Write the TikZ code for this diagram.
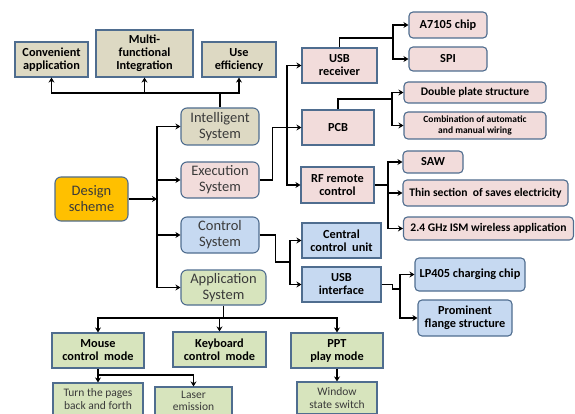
\documentclass[tikz,border=0pt]{standalone}
\usepackage{fontspec}
\setmainfont{Carlito}
\usetikzlibrary{arrows.meta}
\definecolor{bordc}{RGB}{79,109,143}
\definecolor{beigec}{HTML}{DDD9C3}
\definecolor{pinkc}{HTML}{F2DCDB}
\definecolor{bluec}{HTML}{C6D9F1}
\definecolor{greenc}{HTML}{D7E4BD}
\definecolor{orangec}{HTML}{FFC000}
\definecolor{sysc}{HTML}{3A3A3A}
\tikzset{
	box/.style={draw=bordc,line width=1.1pt,align=center,inner sep=1pt,
		font=\bfseries\fontsize{12.3}{13}\selectfont},
	rbox/.style={box,rounded corners=4pt},
	widebox/.style={rbox,font=\bfseries\fontsize{11.6}{13}\selectfont},
	sysbox/.style={rbox,rounded corners=6pt,text=sysc,
		font=\fontsize{14.5}{16}\selectfont},
	plainbox/.style={box,font=\fontsize{11.5}{12.5}\selectfont,text=sysc},
	link/.style={line width=1.4pt},
	arr/.style={link,-{Stealth[length=5pt,width=6pt]}}
}
\begin{document}
\begin{tikzpicture}[x=1pt,y=-1pt]
	\clip (0,0) rectangle (575,414);
	\node[box,fill=beigec,minimum width=73,minimum height=35] (conv) at (51.5,59.5) {Convenient\\application};
	\node[box,fill=beigec,minimum width=97,minimum height=47] (multi) at (144.5,53.5) {Multi-\\functional\\Integration};
	\node[box,fill=beigec,minimum width=74,minimum height=35] (useeff) at (239,59.5) {Use\\efficiency};
	\node[sysbox,fill=orangec,minimum width=73,minimum height=44] (design) at (91.5,199) {Design\\scheme};
	\node[sysbox,fill=beigec,minimum width=78,minimum height=37] (intel) at (220,126.5) {Intelligent\\System};
	\node[sysbox,fill=pinkc,minimum width=78,minimum height=36] (exec) at (220,180) {Execution\\System};
	\node[sysbox,fill=bluec,minimum width=78,minimum height=36] (ctrl) at (220,235) {Control\\System};
	\node[sysbox,fill=greenc,minimum width=85,minimum height=35] (appl) at (223.5,287.5) {Application\\System};
	\node[box,fill=pinkc,minimum width=75,minimum height=35] (usbr) at (339.5,65.5) {USB\\receiver};
	\node[rbox,fill=pinkc,minimum width=78,minimum height=26] (a7105) at (448,25) {A7105 chip};
	\node[rbox,fill=pinkc,minimum width=78,minimum height=24] (spi) at (448,59) {SPI};
	\node[box,fill=pinkc,minimum width=72,minimum height=35] (pcb) at (338,127.5) {PCB};
	\node[widebox,fill=pinkc,minimum width=142,minimum height=21] (dps) at (475,92.5) {Double plate structure};
	\node[rbox,fill=pinkc,minimum width=142,minimum height=27,font=\bfseries\fontsize{9.5}{10.5}\selectfont] (comb) at (475,125.5) {Combination of automatic\\and manual wiring};
	\node[box,fill=pinkc,minimum width=73,minimum height=36] (rf) at (337.5,185) {RF remote\\control};
	\node[rbox,fill=pinkc,minimum width=60,minimum height=22] (saw) at (433,162) {SAW};
	\node[widebox,fill=pinkc,minimum width=165,minimum height=26] (thin) at (485.5,193) {Thin section\ \ of saves electricity};
	\node[widebox,fill=pinkc,minimum width=170,minimum height=23] (ism) at (488.5,228.5) {2.4 GHz ISM wireless application};
	\node[box,fill=bluec,minimum width=79,minimum height=35] (ccu) at (341.5,240.5) {Central\\control\ \ unit};
	\node[box,fill=bluec,minimum width=79,minimum height=35] (usbi) at (341.5,284.5) {USB\\interface};
	\node[rbox,fill=bluec,minimum width=110,minimum height=33] (lp) at (470,274.5) {LP405 charging chip};
	\node[rbox,fill=bluec,minimum width=94,minimum height=36] (flange) at (465,318) {Prominent\\flange structure};
	\node[box,fill=greenc,minimum width=92,minimum height=35] (mouse) at (98,350.5) {Mouse\\control\ \ mode};
	\node[box,fill=greenc,minimum width=93,minimum height=35] (kbd) at (219.5,349.5) {Keyboard\\control\ \ mode};
	\node[box,fill=greenc,minimum width=92,minimum height=35] (ppt) at (337,350.5) {PPT\\play mode};
	\node[plainbox,fill=greenc,minimum width=90,minimum height=32] (turn) at (98,399) {Turn the pages\\back and forth};
	\node[plainbox,fill=greenc,minimum width=77,minimum height=28] (laser) at (193.5,401) {Laser\\emission};
	\node[plainbox,fill=greenc,minimum width=80,minimum height=32] (window) at (337,398) {Window\\state switch};
	\coordinate (topbus) at (220,93);
	\coordinate (lbus) at (157,199);
	\coordinate (ebus) at (287,127.5);
	\coordinate (ubus) at (393,38);
	\coordinate (pbus) at (392,99);
	\coordinate (rbus) at (388,185);
	\coordinate (cbus) at (290,262);
	\coordinate (ibus) at (400,289);
	\coordinate (abus) at (223.5,318);
	\coordinate (mbus) at (98,375);
	\draw[link] (intel.north) -- (topbus);
	\draw[arr] (topbus) -| (conv.south);
	\draw[arr] (topbus) -| (multi.south);
	\draw[arr] (topbus) -| (useeff.south);
	\draw[arr] (design.east) -- (lbus);
	\draw[arr] (lbus) |- (intel.west);
	\draw[arr] (lbus) |- (exec.west);
	\draw[arr] (lbus) |- (ctrl.west);
	\draw[arr] (lbus) |- (appl.west);
	\draw[arr] (exec.east) -- ++(13,0) |- (pcb.west);
	\draw[arr] (ebus) |- (usbr.west);
	\draw[arr] (ebus) |- (rf.west);
	\draw[link] (usbr.north) |- (ubus);
	\draw[arr] (ubus) |- (a7105.west);
	\draw[arr] (ubus) |- (spi.west);
	\draw[link] (pcb.north) |- (pbus);
	\draw[arr] (pbus) |- (dps.west);
	\draw[arr] (pbus) |- (comb.west);
	\draw[link] (rf.east) -- (rbus);
	\draw[arr] (rbus) |- (saw.west);
	\draw[arr] (rbus) |- (thin.west);
	\draw[arr] (rbus) |- (ism.west);
	\draw[link] (ctrl.east) -- ++(16,0) |- (cbus);
	\draw[arr] (cbus) |- (ccu.west);
	\draw[arr] (cbus) |- (usbi.west);
	\draw[link] (usbi.east) -- ++(11,0) |- (ibus);
	\draw[arr] (ibus) |- (lp.west);
	\draw[arr] (ibus) |- (flange.west);
	\draw[link] (appl.south) -- (abus);
	\draw[arr] (abus) -| (mouse.north);
	\draw[arr] (abus) -| (kbd.north);
	\draw[arr] (abus) -| (ppt.north);
	\draw[link] (mouse.south) -- (mbus);
	\draw[arr] (mbus) -| (turn.north);
	\draw[arr] (mbus) -| (laser.north);
	\draw[arr] (ppt.south) -- (window.north);
\end{tikzpicture}
\end{document}
